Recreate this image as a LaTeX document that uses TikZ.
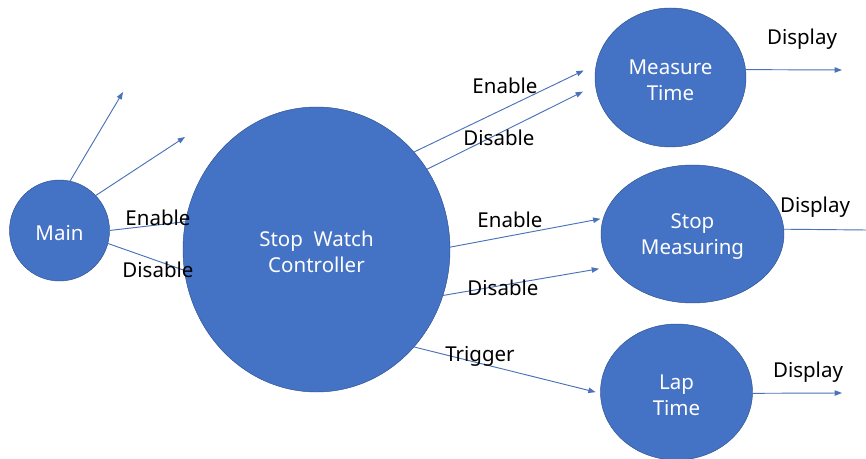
\documentclass[tikz,border=0pt]{standalone}
\usepackage{fontspec}
\setmainfont{Noto Sans}
\usetikzlibrary{arrows.meta,shapes.geometric}
\definecolor{boxblue}{HTML}{4472C4}
\definecolor{rimblue}{HTML}{2F528F}
\definecolor{wireblue}{HTML}{4A72B8}
\newcommand{\toplift}{\rule{0pt}{1.0em}}
\tikzset{
  blob/.style={ellipse, fill=boxblue, draw=rimblue, line width=0.4pt, text=white,
    align=center, inner sep=0pt, outer sep=0pt, font=\fontsize{17.5}{22}\selectfont},
  wire/.style={draw=wireblue, line width=0.8pt, -{Triangle[length=0.22cm,width=0.16cm]}},
  plainwire/.style={draw=wireblue, line width=0.8pt},
  lbl/.style={inner sep=0pt, font=\fontsize{17.5}{22}\selectfont}
}

\begin{document}
\begin{tikzpicture}[x=0.03cm, y=-0.03cm]
      \useasboundingbox (0,0) rectangle (866,459);

      \node[blob, minimum width=3cm, minimum height=3.03cm] (main) at (59.5,230.5) {\toplift Main};
      \node[blob, minimum width=8.01cm, minimum height=8.55cm] (swc) at (316.5,249.5) {\toplift Stop\ \ Watch\\Controller};
      \node[blob, minimum width=4.53cm, minimum height=4.17cm] (measure) at (670.5,77.5) {\toplift Measure\\Time};
      \node[blob, minimum width=5.49cm, minimum height=4.14cm] (stopm) at (692.5,234) {\toplift Stop\\Measuring};
      \node[blob, minimum width=4.56cm, minimum height=4.08cm] (lap) at (676.5,392) {\toplift Lap\\Time};

      \coordinate (upA) at (123,92);
      \coordinate (upB) at (185,137);
      \coordinate (outA) at (842,70);
      \coordinate (outB) at (866,230);
      \coordinate (outC) at (842,393);

      \draw[wire] (main.78) -- (upA);
      \draw[wire] (main.44) -- (upB);
      \draw[plainwire] (main.0) -- (swc.168);
      \draw[plainwire] (main.-15) -- (swc.189);

      \draw[wire, shorten >=0.42cm] (swc.45) -- (measure.170);
      \draw[wire, shorten >=0.42cm] (swc.36) -- (measure.186);
      \draw[wire, shorten >=0.09cm] (swc.1) -- (stopm.170);
      \draw[wire, shorten >=0.39cm] (swc.-20) -- (stopm.202);
      \draw[wire, shorten >=0.15cm] (swc.-45) -- (lap.181);

      \draw[wire] (measure.6) -- (outA);
      \draw[plainwire] (stopm.3) -- (outB);
      \draw[wire] (lap.-1) -- (outC);

      \node[lbl] (enMain) at (158,218) {Enable};
      \node[lbl] (disMain) at (158,270) {Disable};
      \node[lbl] (enMeasure) at (505,86) {Enable};
      \node[lbl] (disMeasure) at (499,138) {Disable};
      \node[lbl] (enStop) at (510,220) {Enable};
      \node[lbl] (disStop) at (503,288) {Disable};
      \node[lbl] (trigLap) at (480,356) {Trigger};
      \node[lbl] (showA) at (802,39) {Display};
      \node[lbl] (showB) at (815,207) {Display};
      \node[lbl] (showC) at (808,372) {Display};
\end{tikzpicture}
\end{document}
